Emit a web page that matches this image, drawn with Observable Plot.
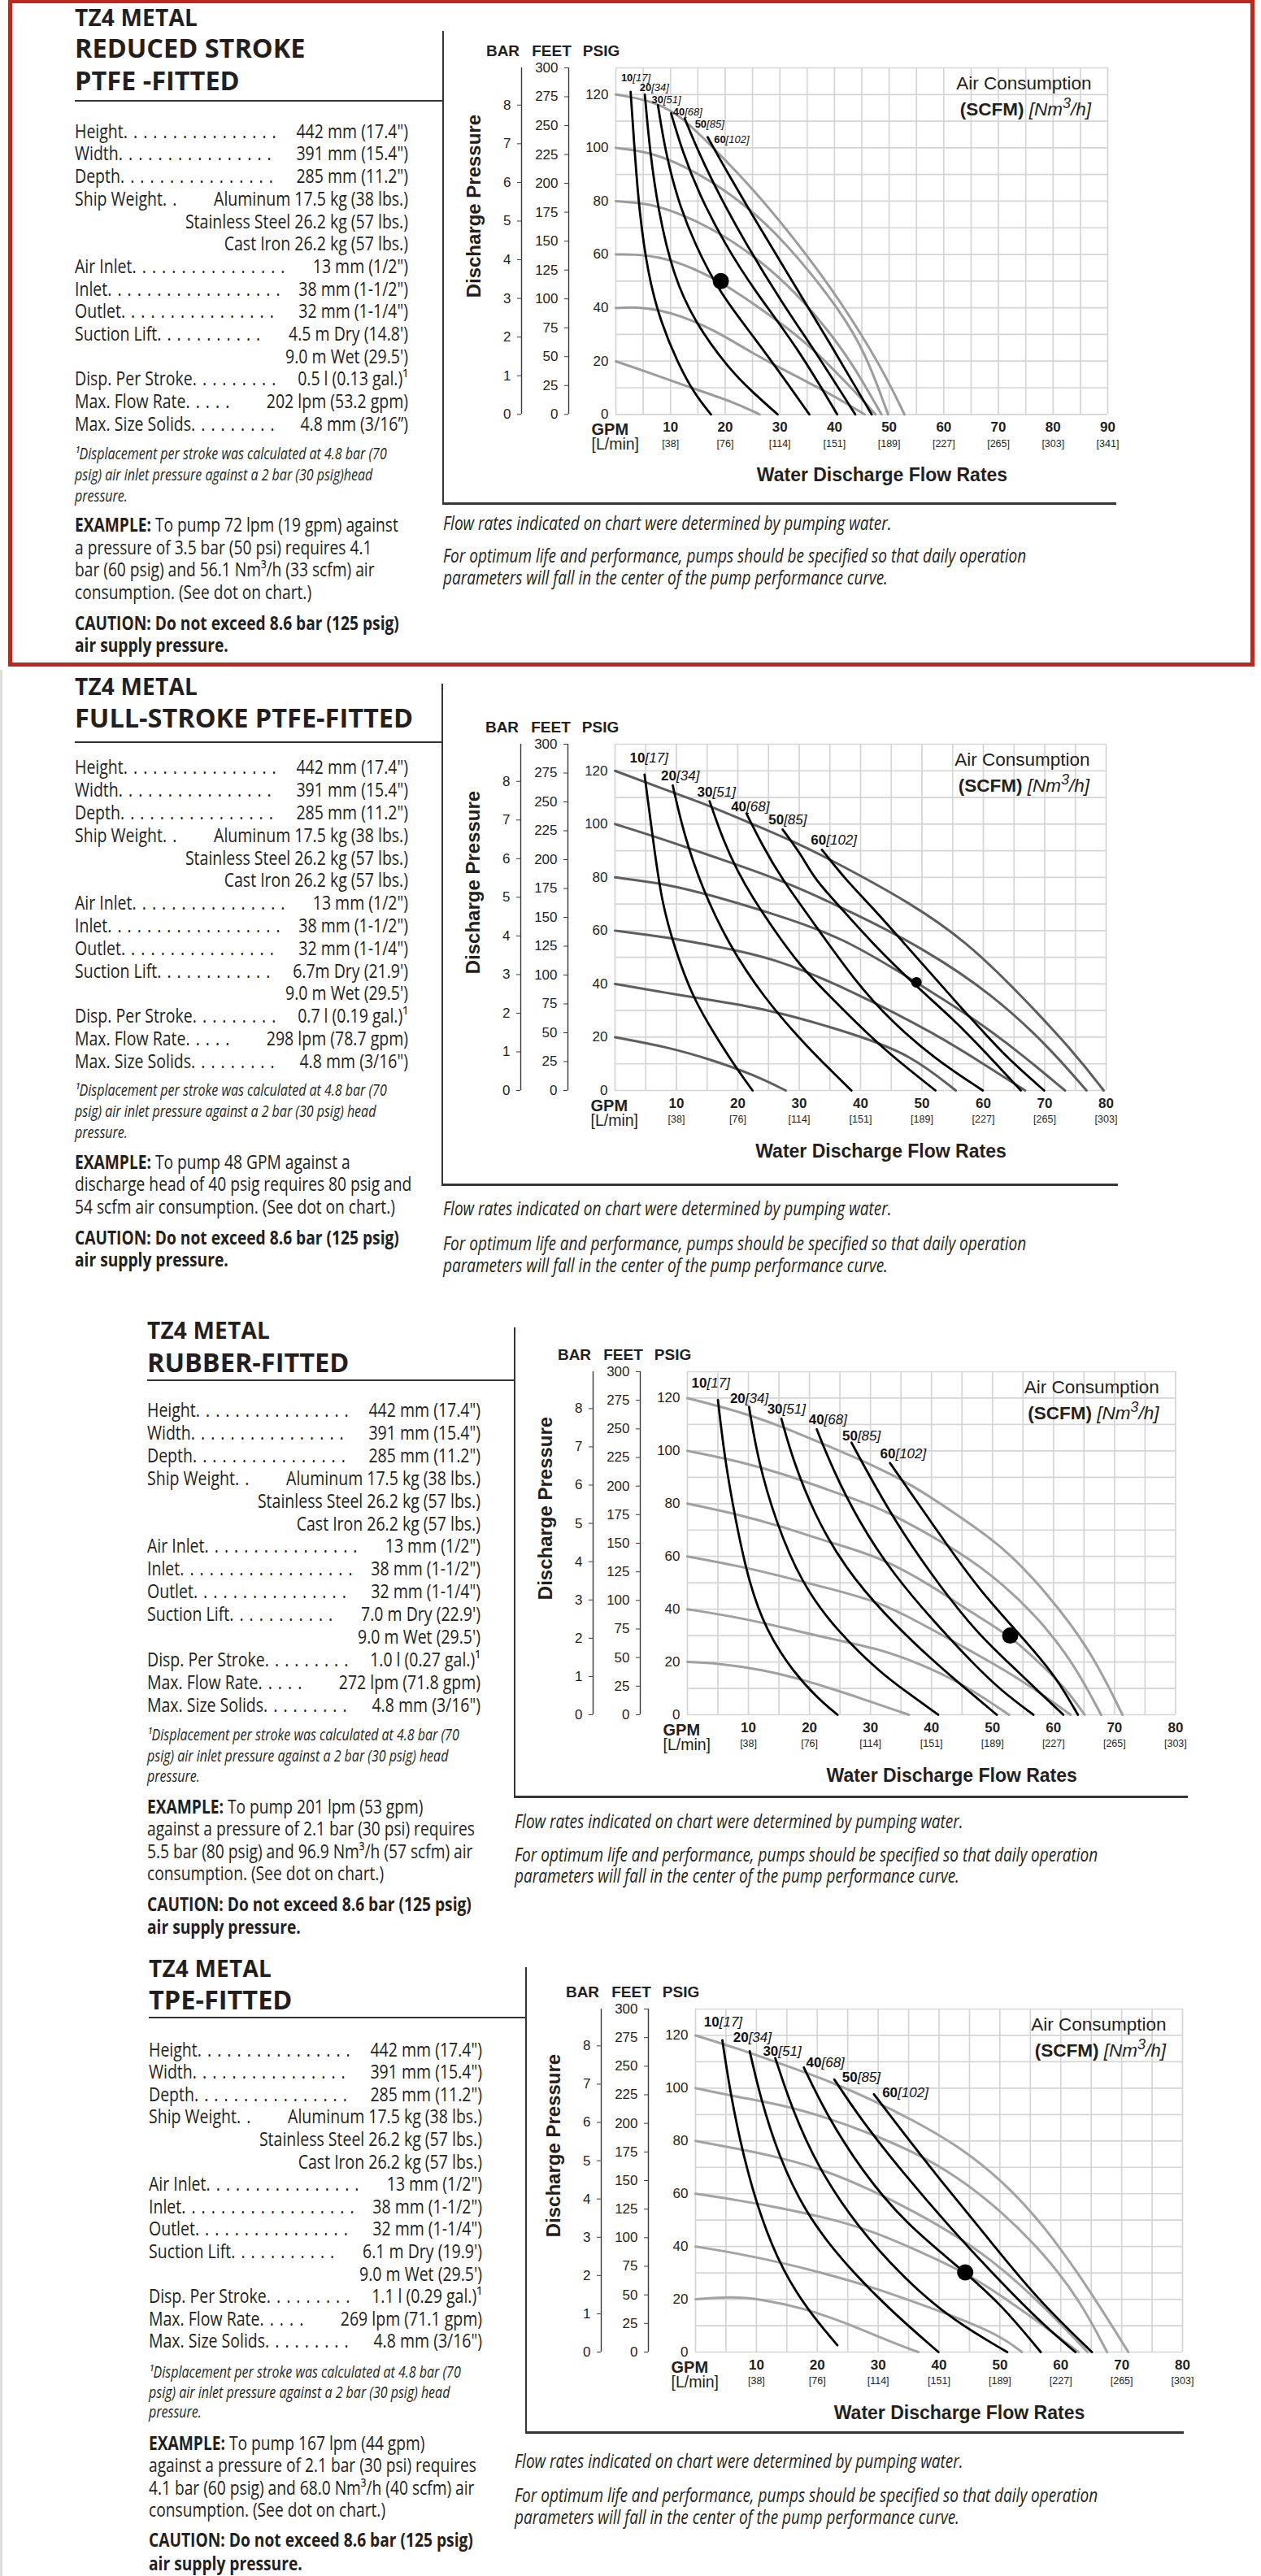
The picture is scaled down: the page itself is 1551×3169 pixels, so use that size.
<!DOCTYPE html>
<html>
<head>
<meta charset="utf-8">
<script src="https://cdn.jsdelivr.net/npm/d3@7"></script>
<script src="https://cdn.jsdelivr.net/npm/@observablehq/plot@0.6"></script>
<style>
html,body{margin:0;padding:0;background:#fff;}
body{width:1551px;height:3169px;position:relative;overflow:hidden;font-family:"Open Sans",sans-serif;color:#231f20;}
.a{position:absolute;white-space:nowrap;}
.t1{font-weight:700;font-size:28px;line-height:30px;letter-spacing:0.2px;}
.t2{font-weight:700;font-size:32.5px;line-height:34px;}
.row{display:flex;align-items:center;font-size:19.5px;height:22px;line-height:22px;transform:scaleY(1.2);transform-origin:center;}
.row .lab,.row .val{flex:none;}
.row .lead{flex:1 1 0;min-width:0;white-space:nowrap;margin:0 12px 0 0;letter-spacing:1px;}
.row .val{margin-left:auto;}
.foot{font-style:italic;font-size:16px;height:20px;line-height:20px;transform:scaleY(1.2);transform-origin:left center;}
.ex{font-size:19.2px;height:22px;line-height:22px;transform:scaleY(1.2);transform-origin:left center;}
.cau{font-weight:700;font-size:19.2px;height:22px;line-height:22px;transform:scaleY(1.2);transform-origin:left center;}
.cap{font-style:italic;font-size:19px;height:24px;line-height:24px;transform:scaleY(1.22);transform-origin:left center;}
.ln{position:absolute;background:#353535;}
</style>
</head>
<body>
<script>
// ---------------- shared axis values ----------------
const psigTicks = [0, 20, 40, 60, 80, 100, 120];
const feetTicks = [0, 25, 50, 75, 100, 125, 150, 175, 200, 225, 250, 275, 300];
const barTicks = [0, 1, 2, 3, 4, 5, 6, 7, 8];
const gpmTicks = [10, 20, 30, 40, 50, 60, 70, 80, 90];
const lpmTickLabels = ["[38]", "[76]", "[114]", "[151]", "[189]", "[227]", "[265]", "[303]", "[341]"];
const scfmLevels = [10, 20, 30, 40, 50, 60];
const nm3hLevels = [17, 34, 51, 68, 85, 102];
const PSI_PER_BAR = 14.5038;
const FEET_PER_PSIG = 300 / 130;

// ---------------- panel 1: reduced stroke PTFE ----------------
const rsGray = {
  20: [[0,19.9],[5.9,15.8],[13.7,10],[21.5,4.7],[26.3,0]],
  40: [[0,39.9],[4,40.3],[8,39.2],[12,36.8],[16,33.4],[20,29.2],[25,23],[30,17.5],[35,12.2],[40,6.8],[45.5,0]],
  60: [[0,60],[3.5,60.1],[8,59],[12,56.6],[16,53],[20,48.6],[25,41.8],[30,34.5],[35,26.5],[40,16.5],[44,8],[47.5,0]],
  80: [[0,80],[5.9,79.2],[11.3,75.7],[17.6,69.8],[25.4,59.5],[33.2,45.5],[41,26],[45,13],[48.6,0]],
  100: [[0,100],[5.9,98.5],[11.3,94.4],[17.6,87.4],[25.4,76],[33.2,59.5],[41,39],[45.7,23],[49.8,0]],
  120: [[0,120],[5.9,118],[11.3,113.2],[17.6,100.5],[25.4,84],[33.2,64.5],[41,43],[48.8,17],[52.8,0]]
};
const rsBlack = {
  10: [[2.7,121],[3.5,96.8],[4.3,75.7],[5.9,52.2],[8.2,34.6],[11.3,19.4],[14.4,7.6],[17.4,0]],
  20: [[5.3,120],[6.2,99.1],[7.8,75.7],[10.5,52.2],[14.4,34.6],[20.7,17],[25.4,7.6],[29.6,0]],
  30: [[7.7,116],[9,99.1],[11.3,80.4],[14.4,64],[19.1,45.2],[25.4,28.7],[31.6,11.1],[35.4,0]],
  40: [[10.1,113],[12.1,99.1],[15.2,82.7],[19.9,64],[25.4,46.3],[33.2,25.2],[40.5,0]],
  50: [[12.6,111],[15.2,98],[19.1,81.5],[23.8,64],[30.1,42.8],[37.1,21.7],[43.8,0]],
  60: [[16.8,104],[20.7,89.7],[25.4,73.3],[31.6,52.2],[38.6,28.7],[46.8,0]]
};
const rsDot = [19.2, 50];
const rsLabelPos = [[3.1,126.3],[6.5,122.6],[8.7,117.9],[12.6,113.5],[16.6,109],[20.1,103.1]];

// ---------------- panel 2: full-stroke PTFE ----------------
const fsGray = {
  20: [[0,20],[8.4,16.4],[15.5,11.7],[22.6,5.9],[27.8,0]],
  40: [[0,40],[8.4,36.6],[15.5,34],[25.7,30.2],[39.1,21.1],[48.1,13.5],[55.5,0]],
  60: [[0,60],[8.4,57.5],[15.5,54.5],[25.7,50.1],[39.1,36.9],[52.7,20.6],[60,10],[66.8,0]],
  80: [[0,80],[8.4,77.5],[15.5,73.4],[25.7,66.4],[37,57.7],[49.1,40.6],[59.3,25.7],[66,14],[73.3,0]],
  100: [[0,100],[8.4,93.9],[15.5,88.1],[26.6,79.6],[39.1,66.4],[50.4,53.1],[61.6,35.9],[70.6,16.5],[76.8,0]],
  120: [[0,120],[8.4,112.7],[15.5,106.8],[22.6,99.8],[29.8,92.8],[36.9,84.5],[48.1,70.4],[57.1,56.2],[66.1,35.9],[75.1,13.5],[79.6,0]]
};
const fsBlack = {
  10: [[4.8,118.6],[6.2,93.9],[7.6,70.4],[9.8,52.8],[12.6,35.2],[16.2,21.1],[19.8,8.2],[22.4,0]],
  20: [[9.4,114.5],[11.2,96.3],[14.1,76.3],[18.4,55.2],[24.1,35.2],[31.2,16.4],[38.5,0]],
  30: [[15.4,108.6],[17.6,94],[20,82],[22.5,72],[25.7,61],[30,47],[36,33],[43.4,16],[52.2,0]],
  40: [[21.4,104],[24,92],[27,80],[32,64],[39.1,41],[45,26],[52,12],[59.9,0]],
  50: [[27.3,98],[30.5,88],[32.4,79.6],[37,68],[42,55],[49.1,39],[55,27],[60.5,14],[66.1,0]],
  60: [[33.7,90.4],[37.4,79.6],[42,68.5],[47,55.5],[52,42.5],[56,32],[60,22],[64,12],[69.9,0]]
};
const fsDot = [49.1, 40.6];
const fsLabelPos = [[4.9,124.7],[10,118.2],[15.9,111.9],[21.4,106.5],[27.5,101.6],[34.4,93.9]];

// ---------------- panel 3: rubber-fitted ----------------
const rfGray = {
  20: [[0,20],[5,19.5],[12.2,17.2],[19.4,13],[26.6,7.7],[36.3,0]],
  40: [[0,40],[8.6,36.8],[15.8,33],[23,29],[31.4,25],[38,19.5],[45,12],[52.7,0]],
  60: [[0,60],[8.6,56.3],[15.8,52.3],[23,48],[31.4,42.8],[38,35],[45,26],[52,17],[58,8],[62.8,0]],
  80: [[0,80],[8.6,75.8],[15.8,71.1],[23,65.5],[31.4,60],[40,49],[46,39.5],[52.9,30],[58,19],[62,10],[65.1,0]],
  100: [[0,100],[8.6,96],[15.8,91.2],[23,85.3],[30.2,79.4],[34,75.5],[44.5,62],[51.7,49.8],[58.9,33.2],[63.9,17],[67.8,0]],
  120: [[0,120],[8.6,114.9],[15.8,109],[23,101.9],[30.2,94.8],[37.3,86.5],[43.4,77],[51.7,64],[58.9,46.2],[66,24.9],[71.3,0]]
};
const rfBlack = {
  10: [[5,119.3],[6.1,97.2],[7.9,73.5],[10.1,49.8],[12.9,32],[17.2,16.6],[21.5,5.9],[24.6,0]],
  20: [[10.1,116.7],[11.5,97.2],[14.4,73.5],[18.7,49.8],[24.4,32],[31.6,16],[36,8.5],[41.1,0]],
  30: [[15.4,112.2],[17.2,97.2],[20.8,75.8],[25.8,55.7],[32.3,38],[39.5,22],[44.5,12],[50.7,0]],
  40: [[21.2,108.2],[23.7,93.6],[28,73.5],[33.7,53.3],[40.9,34],[47,19],[51.5,9],[56.7,0]],
  50: [[26.9,103.1],[30.2,88.9],[35.2,69],[41.6,48],[47.5,31],[52.5,20],[57,10],[61.6,0]],
  60: [[33.2,95.4],[37.3,81.8],[43.1,62.5],[48,47],[53.6,32.6],[58,21],[61,12],[64,0]]
};
const rfDot = [52.9, 30];
const rfLabelPos = [[3.2,125.6],[9.5,119.7],[15.6,115.8],[22.4,111.7],[27.9,105.5],[34.1,98.9]];

// ---------------- panel 4: TPE-fitted ----------------
const tpGray = {
  20: [[0,20],[5.7,21],[10.7,20.1],[17.9,16.6],[25.1,10.7],[32.3,3.6],[36.6,0]],
  40: [[0,40],[7.1,37.3],[14.3,33.8],[21.5,29.6],[28.7,24.9],[35.9,19],[43.1,13],[50.3,5.9],[53.6,0]],
  60: [[0,60],[7.1,57.5],[14.3,54.5],[21.5,50.9],[28.7,46.2],[35.9,39.1],[44.3,30.2],[50.3,21.3],[57.5,9.5],[62.9,0]],
  80: [[0,80],[7.1,77],[14.3,73.5],[21.5,68.7],[28.7,61.6],[35.9,53.3],[43.1,43.8],[50.3,32],[57.5,16.6],[64.4,0]],
  100: [[0,100],[7.1,96.6],[14.3,93.6],[21.5,88.9],[28.7,82.9],[35.9,75.8],[43.1,66.4],[50.3,53.3],[57.5,36.7],[63.3,19],[67.6,0]],
  120: [[0,120],[7.1,114.9],[14.3,109],[21.5,103.1],[28.7,96],[35.9,87.7],[43.1,78.2],[50.3,65.2],[57.5,47.4],[64.7,23.7],[71.1,0]]
};
const tpBlack = {
  10: [[4.4,118.2],[5.7,98.3],[7.8,74.6],[10.7,50.9],[14.3,30.8],[18.6,15.4],[23.3,2.6]],
  20: [[8.9,114],[10.7,96],[13.6,74.6],[17.9,53.3],[23.7,35.5],[31.6,16.6],[39.9,0]],
  30: [[13.1,111.4],[15.8,92.4],[20.1,69.9],[26.6,47.4],[34.5,27.3],[42.4,11.8],[51.2,0]],
  40: [[17.8,107.8],[21.5,90],[27.3,68.7],[34.5,48.6],[44.3,30.2],[50.3,17.8],[56.7,0]],
  50: [[22.8,103.3],[27.3,87.7],[33.8,68.7],[41.7,47.4],[50.3,26.1],[57.5,9.5],[62.4,0]],
  60: [[29.3,97.7],[33.8,84.1],[40.2,65.2],[48.2,42.7],[56.1,20.1],[65.1,0]]
};
const tpDot = [44.3, 30.2];
const tpLabelPos = [[3.9,125.2],[8.7,119.1],[13.6,114],[20.7,109.8],[26.6,104],[33.2,98.3]];

// ---------------- texts ----------------
const rsTitle = [`TZ4  METAL`, `REDUCED STROKE`, `PTFE -FITTED`];
const fsTitle = [`TZ4  METAL`, `FULL-STROKE PTFE-FITTED`];
const rfTitle = [`TZ4  METAL`, `RUBBER-FITTED`];
const tpTitle = [`TZ4  METAL`, `TPE-FITTED`];

const specsTop = [
  [`Height`, `442 mm (17.4")`],
  [`Width`, `391 mm (15.4")`],
  [`Depth`, `285 mm (11.2")`],
  [`Ship Weight`, `Aluminum 17.5 kg (38 lbs.)`],
  [``, `Stainless Steel 26.2 kg (57 lbs.)`],
  [``, `Cast Iron 26.2 kg (57 lbs.)`],
  [`Air Inlet`, `13 mm (1/2")`],
  [`Inlet`, `38 mm (1-1/2")`],
  [`Outlet`, `32 mm (1-1/4")`]
];
const rsSpecs = [[`Suction Lift`, `4.5 m Dry (14.8')`], [``, `9.0 m Wet (29.5')`], [`Disp. Per Stroke`, `0.5 l (0.13 gal.)¹`], [`Max. Flow Rate`, `202 lpm (53.2 gpm)`], [`Max. Size Solids`, `4.8 mm (3/16”)`]];
const fsSpecs = [[`Suction Lift`, `6.7m Dry (21.9')`], [``, `9.0 m Wet (29.5')`], [`Disp. Per Stroke`, `0.7 l (0.19 gal.)¹`], [`Max. Flow Rate`, `298 lpm (78.7 gpm)`], [`Max. Size Solids`, `4.8 mm (3/16")`]];
const rfSpecs = [[`Suction Lift`, `7.0 m Dry (22.9')`], [``, `9.0 m Wet (29.5')`], [`Disp. Per Stroke`, `1.0 l (0.27 gal.)¹`], [`Max. Flow Rate`, `272 lpm (71.8 gpm)`], [`Max. Size Solids`, `4.8 mm (3/16")`]];
const tpSpecs = [[`Suction Lift`, `6.1 m Dry (19.9')`], [``, `9.0 m Wet (29.5')`], [`Disp. Per Stroke`, `1.1 l (0.29 gal.)¹`], [`Max. Flow Rate`, `269 lpm (71.1 gpm)`], [`Max. Size Solids`, `4.8 mm (3/16")`]];

const rsFootnote = [`¹Displacement per stroke was calculated at 4.8 bar (70`, `psig) air inlet pressure against a 2 bar (30 psig)head`, `pressure.`];
const footnote = [`¹Displacement per stroke was calculated at 4.8 bar (70`, `psig) air inlet pressure against a 2 bar (30 psig) head`, `pressure.`];

const rsExample = [`  To pump 72 lpm (19 gpm) against`, `a pressure of 3.5 bar (50 psi) requires 4.1`, `bar (60 psig) and 56.1 Nm³/h (33 scfm) air`, `consumption.  (See dot on chart.)`];
const fsExample = [`  To pump 48 GPM against a`, `discharge head of 40 psig requires 80 psig and`, `54 scfm air consumption.  (See dot on chart.)`];
const rfExample = [`  To pump 201 lpm (53 gpm)`, `against a pressure of 2.1 bar (30 psi) requires`, `5.5 bar (80 psig) and 96.9 Nm³/h (57 scfm) air`, `consumption.  (See dot on chart.)`];
const tpExample = [`  To pump 167 lpm (44 gpm)`, `against a pressure of 2.1 bar (30 psi) requires`, `4.1 bar (60 psig) and 68.0 Nm³/h (40 scfm) air`, `consumption.  (See dot on chart.)`];

const cautionLines = [`CAUTION: Do not exceed 8.6 bar (125 psig)`, `air supply pressure.`];
const captionLines = [`Flow rates indicated on chart were determined by pumping water.`, `For optimum life and performance, pumps should be specified so that daily operation`, `parameters will fall in the center of the pump performance curve.`];

// ---------------- layout (positions only) ----------------
const panels = [
  {title: rsTitle, specs: specsTop.concat(rsSpecs), foot: rsFootnote, example: rsExample,
   textX: 92, textRight: 502, titleY: [21, 58.5, 98.5], underY: 123, underRight: 545,
   vX: 544, vTop: 38, vBottom: 619, hY: 618, hRight: 1373,
   specY: 161.7, specDy: 27.7, footY: 558, footDy: 26, exY: 646, exDy: 27.6, cauY: 766.5, cauDy: 27.5,
   capX: 545, capY: [643, 683, 710],
   chart: {gray: rsGray, black: rsBlack, dot: rsDot, labels: rsLabelPos, xMax: 90, left: 757, top: 82.7, w: 605, h: 426.3, grayColor: "#9c9c9c", labelSize: 13, dotR: 10}},
  {title: fsTitle, specs: specsTop.concat(fsSpecs), foot: footnote, example: fsExample,
   textX: 92, textRight: 502, titleY: [844, 883], underY: 912, underRight: 543,
   vX: 543, vTop: 841, vBottom: 1457, hY: 1456, hRight: 1375,
   specY: 944.3, specDy: 27.8, footY: 1340.8, footDy: 26.2, exY: 1429.5, exDy: 27.6, cauY: 1522.6, cauDy: 27.4,
   capX: 545, capY: [1486, 1529, 1556],
   chart: {gray: fsGray, black: fsBlack, dot: fsDot, labels: fsLabelPos, xMax: 80, left: 756, top: 915, w: 604, h: 426, grayColor: "#5e5e5e", labelSize: 17, dotR: 6.5}},
  {title: rfTitle, specs: specsTop.concat(rfSpecs), foot: footnote, example: rfExample,
   textX: 181, textRight: 591, titleY: [1636, 1676], underY: 1697, underRight: 633,
   vX: 632, vTop: 1633, vBottom: 2210, hY: 2209, hRight: 1461,
   specY: 1735, specDy: 27.9, footY: 2134, footDy: 25.7, exY: 2223, exDy: 27.4, cauY: 2343, cauDy: 28,
   capX: 633, capY: [2240, 2281, 2307],
   chart: {gray: rfGray, black: rfBlack, dot: rfDot, labels: rfLabelPos, xMax: 80, left: 844.6, top: 1687, w: 600.4, h: 422, grayColor: "#a0a0a0", labelSize: 17, dotR: 10}},
  {title: tpTitle, specs: specsTop.concat(tpSpecs), foot: footnote, example: tpExample,
   textX: 183, textRight: 593, titleY: [2421, 2460], underY: 2481, underRight: 647,
   vX: 646, vTop: 2420, vBottom: 2992, hY: 2991, hRight: 1456,
   specY: 2521.6, specDy: 27.6, footY: 2917.6, footDy: 24.9, exY: 3006, exDy: 27.3, cauY: 3125, cauDy: 28.5,
   capX: 633, capY: [3027, 3069, 3096],
   chart: {gray: tpGray, black: tpBlack, dot: tpDot, labels: tpLabelPos, xMax: 80, left: 855, top: 2471, w: 599, h: 422, grayColor: "#a3a3a3", labelSize: 17, dotR: 10}}
];

// ---------------- helpers ----------------
function box(x, y, w, h, color) {
  const d = document.createElement("div");
  d.className = "ln";
  Object.assign(d.style, {left: x + "px", top: y + "px", width: w + "px", height: h + "px"});
  if (color) d.style.background = color;
  document.body.appendChild(d);
  return d;
}
function line(cls, x, cy, lh, parts) {
  const d = document.createElement("div");
  d.className = "a " + cls;
  d.style.left = x + "px";
  d.style.top = (cy - lh / 2) + "px";
  for (const p of parts) {
    const s = document.createElement("span");
    if (typeof p === "string") s.textContent = p;
    else { s.textContent = p.t; if (p.b) s.style.fontWeight = "700"; }
    d.appendChild(s);
  }
  document.body.appendChild(d);
  return d;
}
const tightLeaders = new Set(["Height", "Inlet", "Outlet", "Depth", "Suction Lift", "Max. Size Solids", "Disp. Per Stroke"]);
function specRow(x, right, cy, label, value) {
  const d = document.createElement("div");
  d.className = "a row";
  d.style.left = x + "px";
  d.style.top = (cy - 11) + "px";
  d.style.width = (right - x) + "px";
  let ld = null;
  if (label) {
    const l = document.createElement("span"); l.className = "lab"; l.textContent = label;
    ld = document.createElement("span"); ld.className = "lead";
    d.append(l, ld);
  }
  const v = document.createElement("span"); v.className = "val"; v.textContent = value;
  d.appendChild(v);
  document.body.appendChild(d);
  if (ld) {
    // fill the leader with as many dots as fit inside its flex width
    const avail = ld.getBoundingClientRect().width;
    const probe = document.createElement("span");
    probe.textContent = ". ".repeat(10);
    ld.appendChild(probe);
    const per = probe.getBoundingClientRect().width / 10;
    probe.remove();
    const lead = tightLeaders.has(label) ? "" : " ";
    const leadW = lead ? 7 : 0;
    const n = Math.max(1, Math.floor((avail - leadW - per) / per));
    ld.textContent = lead + ". ".repeat(n).trimEnd();
  }
}

function drawChart(c) {
  const ML = 200, MT = 45, MR = 30, MB = 110;
  const toRows = (obj) => Object.entries(obj).flatMap(([lvl, pts]) => pts.map(([gpm, psig]) => ({lvl: +lvl, gpm, psig})));
  const grayRows = toRows(c.gray);
  const blackRows = toRows(c.black);
  const labels = c.labels.map(([gpm, psig], i) => ({gpm, psig, scfm: scfmLevels[i], nm3: nm3hLevels[i]}));
  const xt = gpmTicks.filter(t => t <= c.xMax);
  const lpm = new Map(gpmTicks.map((t, i) => [t, lpmTickLabels[i]]));
  const lab = (t, frameAnchor, dx, dy, o = {}) => Plot.text([t], {text: d => d, frameAnchor, dx, dy, fill: "#231f20", textAnchor: "middle", lineAnchor: "middle", ...o});
  const svg = Plot.plot({
    width: ML + c.w + MR, height: MT + c.h + MB,
    marginLeft: ML, marginTop: MT, marginRight: MR, marginBottom: MB,
    x: {domain: [0, c.xMax], label: null},
    y: {domain: [0, 130], label: null},
    style: {fontFamily: "'Liberation Sans', Arial, sans-serif", color: "#231f20", background: "transparent", overflow: "visible"},
    marks: [
      Plot.gridX(d3.range(0, c.xMax + 0.01, 5), {stroke: "#d5d5d5", strokeOpacity: 1, strokeWidth: 1.7}),
      Plot.gridY(d3.range(0, 130.01, 10), {stroke: "#d5d5d5", strokeOpacity: 1, strokeWidth: 1.7}),
      Plot.ruleX([0], {y1: 0, y2: 130, dx: -58, stroke: "#3a3a3a", strokeWidth: 1.4}),
      Plot.ruleX([0], {y1: 0, y2: 130, dx: -116, stroke: "#3a3a3a", strokeWidth: 1.4}),
      Plot.axisY(psigTicks, {anchor: "left", tickSize: 0, tickPadding: 9, fontSize: 17, label: null}),
      Plot.axisY(feetTicks.map(f => f / FEET_PER_PSIG), {anchor: "left", dx: -58, tickSize: 5, tickPadding: 8, fontSize: 17, tickFormat: v => String(Math.round(v * FEET_PER_PSIG)), label: null, stroke: "#3a3a3a"}),
      Plot.axisY(barTicks.map(b => b * PSI_PER_BAR), {anchor: "left", dx: -116, tickSize: 5, tickPadding: 8, fontSize: 17, tickFormat: v => String(Math.round(v / PSI_PER_BAR)), label: null, stroke: "#3a3a3a"}),
      Plot.axisX(xt, {anchor: "bottom", tickSize: 0, tickPadding: 9, fontSize: 17, fontWeight: "bold", label: null}),
      Plot.axisX(xt, {anchor: "bottom", tickSize: 0, tickPadding: 31, fontSize: 12.5, tickFormat: t => lpm.get(t), label: null}),
      Plot.line(grayRows, {x: "gpm", y: "psig", z: "lvl", stroke: c.grayColor, strokeWidth: 3, curve: "basis"}),
      Plot.line(blackRows, {x: "gpm", y: "psig", z: "lvl", stroke: "#000", strokeWidth: 2.8, curve: "basis"}),
      Plot.dot([c.dot], {x: d => d[0], y: d => d[1], r: c.dotR, fill: "#000", stroke: "none"}),
      Plot.text(labels, {x: "gpm", y: "psig", text: d => String(d.scfm), textAnchor: "end", fontWeight: "bold", fontSize: c.labelSize, fill: "#111"}),
      Plot.text(labels, {x: "gpm", y: "psig", text: d => `[${d.nm3}]`, textAnchor: "start", fontStyle: "italic", fontSize: c.labelSize, fill: "#111"}),
      lab("BAR", "top-left", -139, -21, {fontWeight: "bold", fontSize: 19}),
      lab("FEET", "top-left", -79, -21, {fontWeight: "bold", fontSize: 19}),
      lab("PSIG", "top-left", -18, -21, {fontWeight: "bold", fontSize: 19}),
      lab("GPM", "bottom-left", -30, 19, {textAnchor: "start", fontWeight: "bold", fontSize: 20}),
      lab("[L/min]", "bottom-left", -30, 37, {textAnchor: "start", fontSize: 19.5}),
      lab("Water Discharge Flow Rates", "bottom", 25, 75, {fontWeight: "bold", fontSize: 23}),
      lab("Discharge Pressure", "left", -174, -43, {rotate: -90, fontWeight: "bold", fontSize: 24}),
      lab("Air Consumption", "top-right", -20, 19, {textAnchor: "end", fontSize: 22.5})
    ]
  });
  // mixed-style legend line: (SCFM) [Nm3/h]
  const t = d3.select(svg).append("text")
    .attr("x", ML + c.w - 20).attr("y", MT + 51 + 8)
    .attr("text-anchor", "end").attr("font-size", 22.5).attr("fill", "#231f20")
    .attr("font-family", "'Liberation Sans', Arial, sans-serif");
  t.append("tspan").attr("font-weight", "bold").text("(SCFM) ");
  t.append("tspan").attr("font-style", "italic").text("[Nm");
  t.append("tspan").attr("font-style", "italic").attr("font-size", 18).attr("dy", -9).text("3");
  t.append("tspan").attr("font-style", "italic").attr("dy", 9).text("/h]");
  svg.style.position = "absolute";
  svg.style.left = (c.left - ML) + "px";
  svg.style.top = (c.top - MT) + "px";
  document.body.appendChild(svg);
}

function drawPanel(p) {
  p.title.forEach((t, i) => line(i === 0 ? "t1" : "t2", p.textX, p.titleY[i], i === 0 ? 30 : 34, [t]));
  box(p.textX, p.underY, p.underRight - p.textX, 2);
  box(p.vX, p.vTop, 2, p.vBottom - p.vTop);
  box(p.vX, p.hY, p.hRight - p.vX, 2.5);
  p.specs.forEach(([l, v], i) => specRow(p.textX, p.textRight, p.specY + i * p.specDy, l, v));
  p.foot.forEach((t, i) => line("foot", p.textX, p.footY + i * p.footDy, 20, [t]));
  p.example.forEach((t, i) => line("ex", p.textX, p.exY + i * p.exDy, 22, i === 0 ? [{t: "EXAMPLE:", b: true}, t] : [t]));
  cautionLines.forEach((t, i) => line("cau", p.textX, p.cauY + i * p.cauDy, 22, [t]));
  captionLines.forEach((t, i) => line("cap", p.capX, p.capY[i], 24, [t]));
  drawChart(p.chart);
}

// page frame elements
const red = document.createElement("div");
Object.assign(red.style, {position: "absolute", left: "10px", top: "0px", width: "1533px", height: "820px", border: "5px solid #b8291f", borderTopWidth: "4px", boxSizing: "border-box"});
document.body.appendChild(red);
box(0, 824, 3, 2345, "#dedede");

panels.forEach(drawPanel);
</script>
</body>
</html>
